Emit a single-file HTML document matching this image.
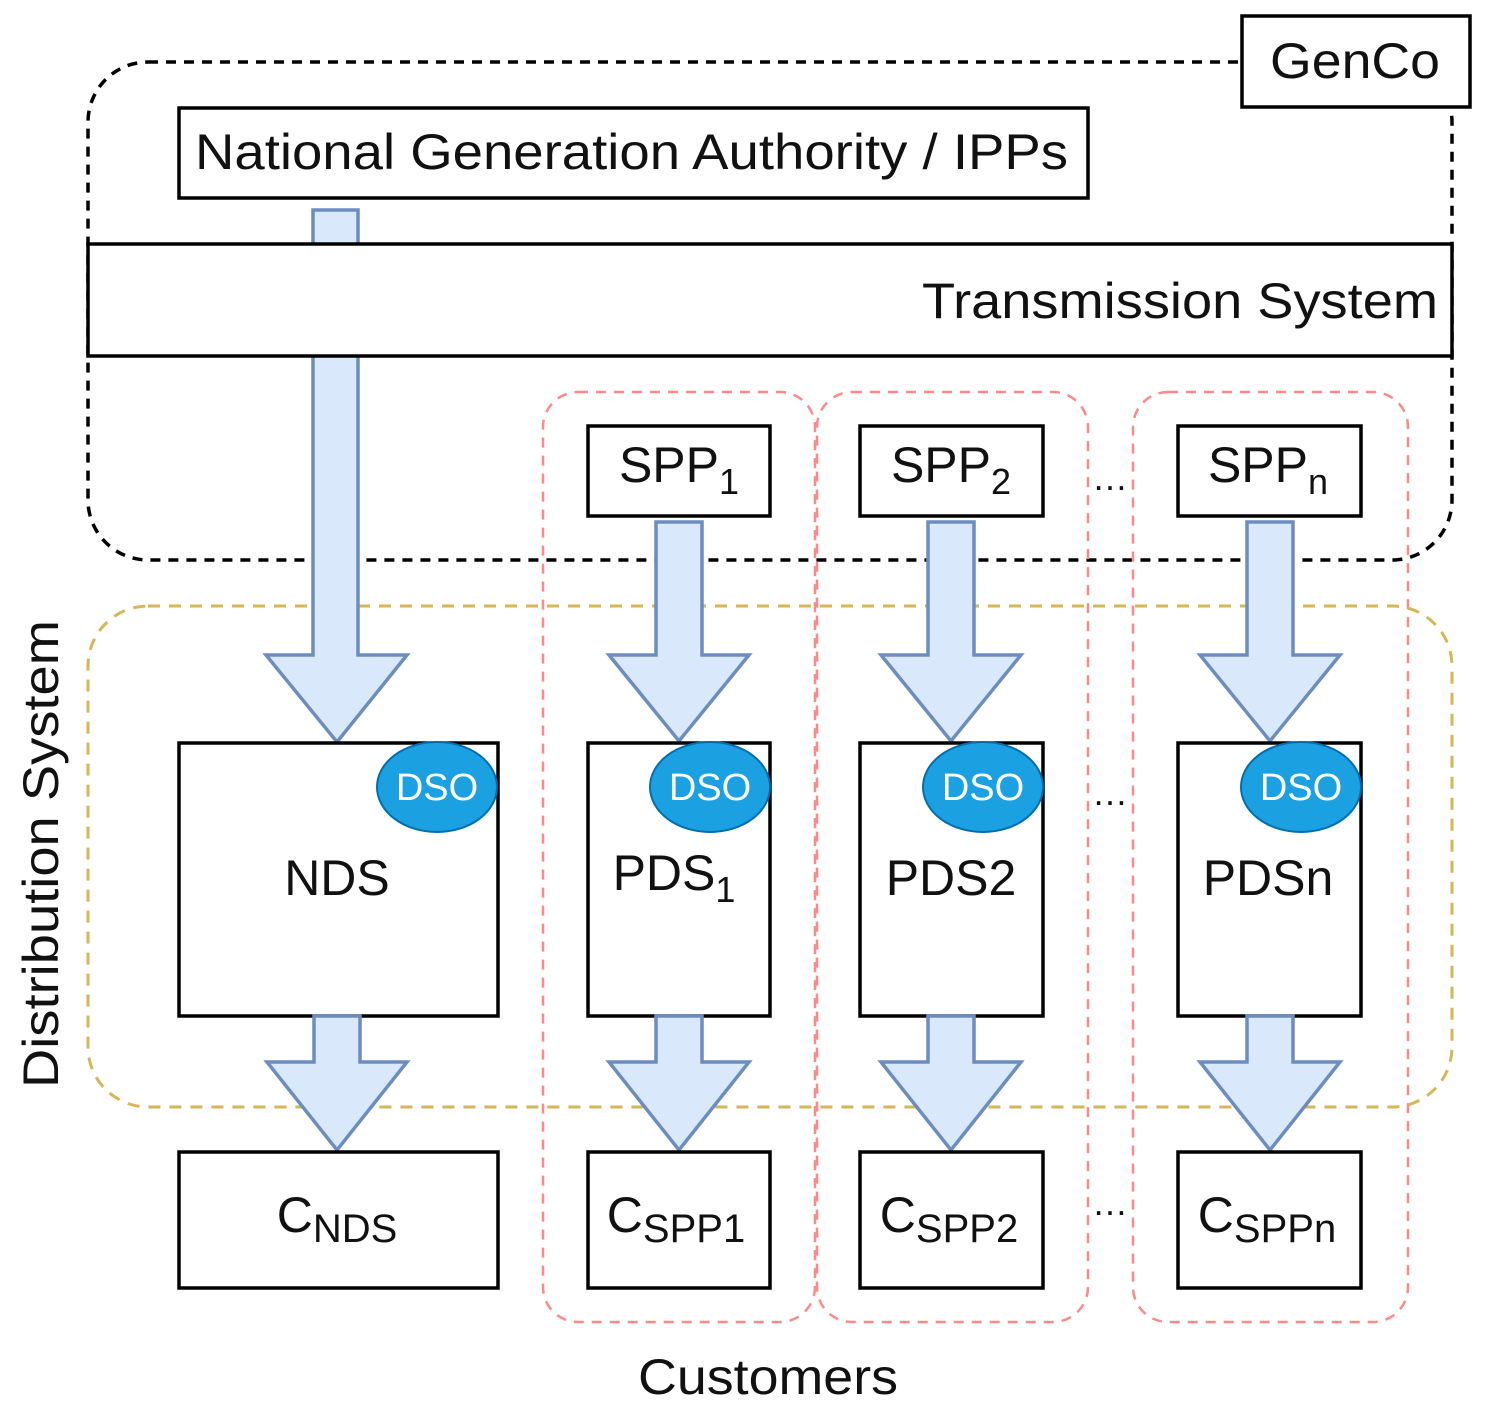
<!DOCTYPE html>
<html><head><style>html,body{margin:0;padding:0;background:#fff}svg{display:block}text{font-family:"Liberation Sans",sans-serif;fill:#111}</style></head>
<body>
<svg width="1486" height="1413" viewBox="0 0 1486 1413" xmlns="http://www.w3.org/2000/svg">
<defs>
<g id="arr"><path d="M-23,0 H23 V133 H70 L0,219 L-70,133 H-23 Z" fill="#dae8fc" stroke="#6c8ebf" stroke-width="3.5"/></g>
<g id="sarr"><path d="M-23,0 H23 V46 H70 L0,134 L-70,46 H-23 Z" fill="#dae8fc" stroke="#6c8ebf" stroke-width="3.5"/></g>
</defs>
<rect x="88" y="62" width="1364" height="498" rx="60" fill="none" stroke="#000" stroke-width="3.5" stroke-dasharray="10,8"/>
<rect x="1242" y="16" width="228" height="91" fill="#fff" stroke="#000" stroke-width="3.5"/>
<text x="1270" y="78" font-size="50" textLength="170" lengthAdjust="spacingAndGlyphs">GenCo</text>
<g fill="none" stroke="#f88" stroke-width="2.5" stroke-dasharray="10,8">
<rect x="543" y="392" width="272" height="930" rx="35"/>
<rect x="817" y="392" width="271" height="930" rx="35"/>
<rect x="1133" y="392" width="275" height="930" rx="35"/>
</g>
<rect x="88" y="606" width="1364" height="501" rx="60" fill="none" stroke="#d6b656" stroke-width="3" stroke-dasharray="12,9"/>
<path d="M313,210 H358 V655 H407 L337,742 L266,655 H313 Z" fill="#dae8fc" stroke="#6c8ebf" stroke-width="3.5"/>
<rect x="179" y="108" width="909" height="90" fill="#fff" stroke="#000" stroke-width="3.5"/>
<text x="195" y="169" font-size="50" textLength="873" lengthAdjust="spacingAndGlyphs">National Generation Authority / IPPs</text>
<rect x="88" y="244" width="1364" height="112" fill="#fff" stroke="#000" stroke-width="3.5"/>
<text x="922" y="318" font-size="50" textLength="516" lengthAdjust="spacingAndGlyphs">Transmission System</text>
<g fill="#fff" stroke="#000" stroke-width="3.5">
<rect x="588" y="426" width="182" height="90"/>
<rect x="860" y="426" width="183" height="90"/>
<rect x="1178" y="426" width="183" height="90"/>
</g>
<text x="679" y="482" font-size="50" text-anchor="middle">SPP<tspan font-size="36" dy="12">1</tspan></text>
<text x="951" y="482" font-size="50" text-anchor="middle">SPP<tspan font-size="36" dy="12">2</tspan></text>
<text x="1268" y="482" font-size="50" text-anchor="middle">SPP<tspan font-size="36" dy="12">n</tspan></text>
<use href="#arr" x="679" y="522"/>
<use href="#arr" x="951" y="522"/>
<use href="#arr" x="1270" y="522"/>
<g fill="#fff" stroke="#000" stroke-width="3.5">
<rect x="179" y="743" width="319" height="273"/>
<rect x="588" y="743" width="182" height="273"/>
<rect x="860" y="743" width="183" height="273"/>
<rect x="1178" y="743" width="183" height="273"/>
</g>
<g fill="#1ba1e2" stroke="#006eaf" stroke-width="2">
<ellipse cx="437" cy="787" rx="60" ry="45"/>
<ellipse cx="710" cy="787" rx="60" ry="45"/>
<ellipse cx="983" cy="787" rx="60" ry="45"/>
<ellipse cx="1301" cy="787" rx="60" ry="45"/>
</g>
<g font-size="38" text-anchor="middle">
<text x="437" y="800" style="fill:#fff">DSO</text>
<text x="710" y="800" style="fill:#fff">DSO</text>
<text x="983" y="800" style="fill:#fff">DSO</text>
<text x="1301" y="800" style="fill:#fff">DSO</text>
</g>
<text x="337" y="895" font-size="50" text-anchor="middle">NDS</text>
<text x="674" y="890" font-size="50" text-anchor="middle">PDS<tspan font-size="36" dy="12">1</tspan></text>
<text x="951" y="895" font-size="50" text-anchor="middle">PDS2</text>
<text x="1268" y="895" font-size="50" text-anchor="middle">PDSn</text>
<use href="#sarr" x="337" y="1016"/>
<use href="#sarr" x="679" y="1016"/>
<use href="#sarr" x="951" y="1016"/>
<use href="#sarr" x="1270" y="1016"/>
<g fill="#fff" stroke="#000" stroke-width="3.5">
<rect x="179" y="1152" width="319" height="136"/>
<rect x="588" y="1152" width="182" height="136"/>
<rect x="860" y="1152" width="183" height="136"/>
<rect x="1178" y="1152" width="183" height="136"/>
</g>
<text x="337" y="1232" font-size="50" text-anchor="middle">C<tspan font-size="40" dy="10">NDS</tspan></text>
<text x="676" y="1232" font-size="50" text-anchor="middle">C<tspan font-size="40" dy="10">SPP1</tspan></text>
<text x="949" y="1232" font-size="50" text-anchor="middle">C<tspan font-size="40" dy="10">SPP2</tspan></text>
<text x="1267" y="1232" font-size="50" text-anchor="middle">C<tspan font-size="40" dy="10">SPPn</tspan></text>
<g font-size="36" text-anchor="middle">
<text x="1110" y="490">…</text>
<text x="1110" y="805">…</text>
<text x="1110" y="1215">…</text>
</g>
<text x="0" y="0" font-size="50" text-anchor="middle" textLength="468" lengthAdjust="spacingAndGlyphs" transform="translate(58,854) rotate(-90)">Distribution System</text>
<text x="638" y="1394" font-size="50" textLength="260" lengthAdjust="spacingAndGlyphs">Customers</text>
</svg>
</body></html>
